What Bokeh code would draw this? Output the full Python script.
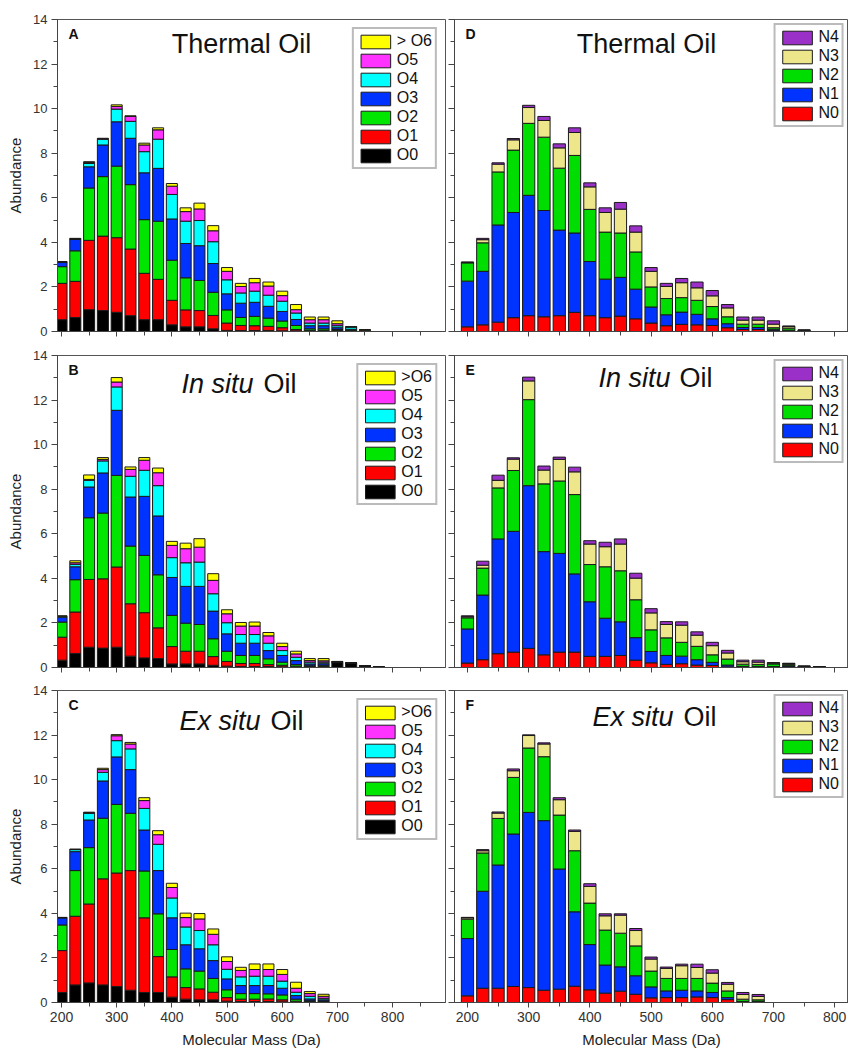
from bokeh.plotting import figure
from bokeh.models import (Range1d, SingleIntervalTicker, Legend, LegendItem,
                          Label, ColumnDataSource)
from bokeh.layouts import column, row
from bokeh.embed import file_html
from bokeh.resources import INLINE

FONT = "Liberation Sans"

# ---------------- data (cumulative stack level = top of each layer) ----------------
mass_thermal = [200, 225, 250, 275, 300, 325, 350, 375, 400, 425, 450, 475,
                500, 525, 550, 575, 600, 625, 650, 675, 700, 725, 750]
mass_insitu = [200, 225, 250, 275, 300, 325, 350, 375, 400, 425, 450, 475,
               500, 525, 550, 575, 600, 625, 650, 675, 700, 725, 750, 775]
mass_exsitu = [200, 225, 250, 275, 300, 325, 350, 375, 400, 425, 450, 475,
               500, 525, 550, 575, 600, 625, 650, 675]

# Panel A - Thermal oil, oxygen classes
A_O0 = [0.53, 0.63, 0.98, 0.94, 0.86, 0.71, 0.53, 0.53, 0.30, 0.21, 0.21, 0.12, 0.05, 0.04, 0.04, 0.04, 0.03, 0.03, 0.02, 0.02, 0.02, 0.05, 0.05]
A_O1 = [2.16, 2.25, 4.09, 4.28, 4.21, 3.70, 2.61, 2.34, 1.40, 0.97, 0.94, 0.72, 0.38, 0.27, 0.26, 0.23, 0.17, 0.09, 0.05, 0.05, 0.04, 0.06, 0.05]
A_O2 = [2.91, 3.62, 6.44, 6.95, 7.42, 6.59, 5.02, 4.95, 3.20, 2.41, 2.29, 1.76, 0.97, 0.63, 0.68, 0.60, 0.47, 0.27, 0.12, 0.12, 0.09, 0.07, 0.05]
A_O3 = [3.12, 4.13, 7.39, 8.37, 9.41, 8.67, 7.12, 7.32, 5.05, 3.95, 3.85, 3.05, 1.69, 1.27, 1.31, 1.13, 0.90, 0.54, 0.26, 0.26, 0.17, 0.10, 0.06]
A_O4 = [3.12, 4.15, 7.54, 8.63, 9.98, 9.43, 8.07, 8.63, 6.15, 4.95, 4.98, 4.03, 2.32, 1.73, 1.81, 1.63, 1.36, 0.83, 0.38, 0.38, 0.26, 0.20, 0.06]
A_O5 = [3.13, 4.16, 7.58, 8.65, 10.10, 9.65, 8.37, 9.05, 6.52, 5.38, 5.50, 4.52, 2.70, 2.02, 2.19, 2.04, 1.61, 0.98, 0.53, 0.53, 0.35, 0.21, 0.06]
A_O6 = [3.14, 4.18, 7.62, 8.67, 10.17, 9.68, 8.45, 9.14, 6.64, 5.55, 5.76, 4.75, 2.87, 2.16, 2.38, 2.22, 1.81, 1.21, 0.65, 0.65, 0.48, 0.22, 0.07]

# Panel B - In situ oil, oxygen classes
B_O0 = [0.33, 0.63, 0.91, 0.87, 0.91, 0.51, 0.43, 0.40, 0.16, 0.16, 0.16, 0.10, 0.06, 0.04, 0.04, 0.04, 0.03, 0.03, 0.02, 0.03, 0.22, 0.19, 0.07, 0.02]
B_O1 = [1.36, 2.49, 3.95, 3.98, 4.51, 2.86, 2.46, 1.78, 0.94, 0.73, 0.73, 0.49, 0.27, 0.18, 0.18, 0.13, 0.10, 0.06, 0.04, 0.05, 0.22, 0.19, 0.07, 0.02]
B_O2 = [2.04, 3.94, 6.72, 6.93, 8.62, 5.45, 5.03, 4.16, 2.34, 1.99, 1.93, 1.29, 0.73, 0.54, 0.54, 0.39, 0.24, 0.13, 0.08, 0.10, 0.25, 0.20, 0.07, 0.03]
B_O3 = [2.26, 4.52, 8.10, 8.73, 11.54, 7.65, 7.68, 6.80, 4.04, 3.64, 3.64, 2.53, 1.51, 1.09, 1.09, 0.76, 0.54, 0.31, 0.16, 0.17, 0.26, 0.20, 0.08, 0.03]
B_O4 = [2.28, 4.63, 8.40, 9.27, 12.59, 8.58, 8.85, 8.16, 4.93, 4.70, 4.73, 3.31, 2.01, 1.48, 1.48, 1.09, 0.76, 0.46, 0.24, 0.24, 0.26, 0.20, 0.08, 0.03]
B_O5 = [2.30, 4.70, 8.44, 9.34, 12.81, 8.89, 9.30, 8.74, 5.48, 5.33, 5.40, 3.91, 2.41, 1.86, 1.86, 1.42, 0.94, 0.61, 0.31, 0.30, 0.27, 0.21, 0.08, 0.03]
B_O6 = [2.32, 4.79, 8.64, 9.42, 13.01, 9.00, 9.42, 8.95, 5.66, 5.58, 5.78, 4.21, 2.59, 2.02, 2.04, 1.57, 1.09, 0.73, 0.40, 0.40, 0.27, 0.21, 0.08, 0.03]

# Panel C - Ex situ oil, oxygen classes
C_O0 = [0.45, 0.79, 0.88, 0.79, 0.72, 0.55, 0.45, 0.45, 0.24, 0.15, 0.12, 0.12, 0.06, 0.04, 0.04, 0.04, 0.03, 0.02, 0.02, 0.02]
C_O1 = [2.33, 3.87, 4.42, 5.55, 5.81, 5.92, 3.80, 2.06, 1.15, 0.67, 0.61, 0.46, 0.22, 0.15, 0.15, 0.16, 0.12, 0.06, 0.05, 0.04]
C_O2 = [3.48, 5.92, 6.95, 8.27, 8.89, 8.49, 5.90, 3.98, 2.38, 1.51, 1.41, 1.08, 0.57, 0.40, 0.40, 0.39, 0.34, 0.15, 0.08, 0.07]
C_O3 = [3.80, 6.77, 8.19, 9.94, 11.02, 10.45, 7.74, 5.92, 3.80, 2.59, 2.41, 1.88, 1.06, 0.76, 0.76, 0.76, 0.64, 0.31, 0.16, 0.12]
C_O4 = [3.81, 6.86, 8.49, 10.33, 11.75, 11.38, 8.71, 7.10, 4.69, 3.39, 3.23, 2.59, 1.49, 1.15, 1.18, 1.18, 0.96, 0.46, 0.28, 0.19]
C_O5 = [3.81, 6.87, 8.52, 10.45, 11.97, 11.60, 9.06, 7.53, 5.16, 3.81, 3.75, 3.06, 1.84, 1.44, 1.48, 1.48, 1.26, 0.64, 0.40, 0.28]
C_O6 = [3.82, 6.88, 8.54, 10.51, 12.02, 11.67, 9.19, 7.71, 5.35, 4.01, 3.99, 3.30, 2.05, 1.58, 1.73, 1.73, 1.48, 0.91, 0.49, 0.37]

# Panel D - Thermal oil, nitrogen classes
D_N0 = [0.21, 0.30, 0.42, 0.62, 0.71, 0.66, 0.71, 0.86, 0.71, 0.62, 0.69, 0.57, 0.38, 0.26, 0.32, 0.30, 0.27, 0.17, 0.09, 0.09, 0.04, 0.03, 0.02]
D_N1 = [2.26, 2.70, 4.78, 5.34, 6.11, 5.43, 4.55, 4.42, 3.14, 2.35, 2.43, 1.90, 1.10, 0.75, 0.87, 0.77, 0.57, 0.35, 0.18, 0.18, 0.10, 0.06, 0.03]
D_N2 = [3.08, 3.98, 7.16, 8.14, 9.34, 8.72, 7.33, 7.90, 5.48, 4.46, 4.42, 3.57, 2.00, 1.48, 1.52, 1.40, 1.12, 0.66, 0.33, 0.33, 0.17, 0.15, 0.05]
D_N3 = [3.10, 4.12, 7.51, 8.60, 10.05, 9.47, 8.24, 8.93, 6.49, 5.34, 5.49, 4.46, 2.70, 2.02, 2.19, 1.96, 1.60, 1.06, 0.51, 0.51, 0.33, 0.22, 0.06]
D_N4 = [3.12, 4.18, 7.57, 8.66, 10.15, 9.65, 8.42, 9.14, 6.67, 5.55, 5.79, 4.74, 2.87, 2.16, 2.38, 2.22, 1.84, 1.21, 0.65, 0.65, 0.48, 0.25, 0.07]

# Panel E - In situ oil, nitrogen classes
E_N0 = [0.20, 0.35, 0.62, 0.69, 0.86, 0.57, 0.69, 0.69, 0.50, 0.50, 0.54, 0.33, 0.21, 0.14, 0.17, 0.11, 0.09, 0.03, 0.02, 0.02, 0.02, 0.05, 0.02, 0.01]
E_N1 = [1.73, 3.25, 5.77, 6.11, 8.16, 5.20, 5.12, 4.20, 2.95, 2.21, 2.05, 1.34, 0.72, 0.54, 0.51, 0.35, 0.23, 0.11, 0.05, 0.05, 0.04, 0.08, 0.03, 0.02]
E_N2 = [2.23, 4.46, 8.06, 8.84, 12.02, 8.24, 8.37, 7.76, 4.62, 4.52, 4.34, 3.04, 1.69, 1.33, 1.13, 0.95, 0.57, 0.38, 0.15, 0.14, 0.16, 0.14, 0.05, 0.02]
E_N3 = [2.28, 4.59, 8.40, 9.35, 12.86, 8.86, 9.34, 8.78, 5.54, 5.42, 5.54, 4.01, 2.45, 1.93, 1.90, 1.45, 0.98, 0.65, 0.26, 0.24, 0.20, 0.18, 0.06, 0.03]
E_N4 = [2.32, 4.77, 8.63, 9.41, 13.03, 9.04, 9.44, 8.99, 5.69, 5.62, 5.77, 4.23, 2.64, 2.06, 2.05, 1.60, 1.13, 0.77, 0.33, 0.33, 0.22, 0.19, 0.06, 0.03]

# Panel F - Ex situ oil, nitrogen classes
F_N0 = [0.30, 0.64, 0.64, 0.72, 0.67, 0.55, 0.60, 0.73, 0.57, 0.42, 0.51, 0.37, 0.21, 0.22, 0.22, 0.25, 0.22, 0.13, 0.02, 0.02]
F_N1 = [2.87, 4.99, 6.17, 7.56, 8.53, 8.16, 5.99, 4.07, 2.60, 1.68, 1.60, 1.20, 0.70, 0.52, 0.55, 0.52, 0.45, 0.22, 0.05, 0.05]
F_N2 = [3.74, 6.71, 8.26, 10.10, 11.42, 11.03, 8.41, 6.81, 4.46, 3.25, 3.11, 2.54, 1.41, 1.08, 1.08, 1.08, 0.87, 0.52, 0.15, 0.12]
F_N3 = [3.80, 6.81, 8.50, 10.40, 11.98, 11.60, 9.10, 7.68, 5.21, 3.89, 3.92, 3.23, 1.95, 1.53, 1.65, 1.57, 1.32, 0.82, 0.36, 0.27]
F_N4 = [3.82, 6.86, 8.55, 10.48, 12.01, 11.65, 9.19, 7.74, 5.33, 3.98, 3.98, 3.32, 2.04, 1.59, 1.72, 1.72, 1.47, 0.90, 0.45, 0.36]

O_labels_A = ["O0", "O1", "O2", "O3", "O4", "O5", "> O6"]
O_labels_BC = ["O0", "O1", "O2", "O3", "O4", "O5", ">O6"]
N_labels = ["N0", "N1", "N2", "N3", "N4"]

O_colors = ["#000000", "#FF0000", "#00E600", "#0033FF", "#00FFFF", "#FF33FF", "#FFFF00"]
N_colors = ["#FF0000", "#0033FF", "#00DD00", "#EEE68A", "#9B30C8"]

# ---------------- layout geometry ----------------
COLS = [dict(width=446, bl=57, br=1, xr=(192.7, 896.0), ylabels=True),
        dict(width=402, bl=8, br=0, xr=(178.8, 822.6), ylabels=False)]
ROWS = [dict(height=343, bt=19, bb=12, xlabels=False),
        dict(height=336, bt=12, bb=12, xlabels=False),
        dict(height=373, bt=11, bb=50, xlabels=True)]


def make_fig(c, r):
    p = figure(width=c["width"], height=r["height"],
               x_range=Range1d(*c["xr"]), y_range=Range1d(0, 14),
               output_backend="svg", toolbar_location=None,
               min_border_left=c["bl"], min_border_right=c["br"],
               min_border_top=r["bt"], min_border_bottom=r["bb"])
    p.grid.visible = False
    p.outline_line_color = "#555555"
    p.outline_line_width = 1
    p.background_fill_color = "white"
    p.border_fill_color = "white"

    p.xaxis.ticker = SingleIntervalTicker(interval=100, num_minor_ticks=2)
    p.yaxis.ticker = SingleIntervalTicker(interval=2, num_minor_ticks=2)
    for ax in (p.xaxis[0], p.yaxis[0]):
        ax.axis_line_color = "#444444"
        ax.major_tick_line_color = "#444444"
        ax.minor_tick_line_color = "#444444"
        ax.major_tick_in = 0
        ax.minor_tick_in = 0
        ax.major_label_text_font = FONT
        ax.major_label_text_color = "#333333"
        ax.axis_label_text_font = FONT
        ax.axis_label_text_font_style = "normal"
        ax.axis_label_text_color = "#222222"
    p.xaxis.major_tick_out = 5
    p.xaxis.minor_tick_out = 4
    p.yaxis.major_tick_out = 6
    p.yaxis.minor_tick_out = 4

    if r["xlabels"]:
        p.xaxis.major_label_text_font_size = "14px"
        p.xaxis.major_label_standoff = 4
        p.xaxis.axis_label = "Molecular Mass (Da)"
        p.xaxis.axis_label_text_font_size = "15px"
        p.xaxis.axis_label_standoff = 6
    else:
        p.xaxis.major_label_text_font_size = "0px"
        p.xaxis.major_label_text_alpha = 0
        p.xaxis.major_label_standoff = 0

    if c["ylabels"]:
        p.yaxis.major_label_text_font_size = "13px"
        p.yaxis.major_label_standoff = 4
        p.yaxis.axis_label = "Abundance"
        p.yaxis.axis_label_text_font_size = "15px"
        p.yaxis.axis_label_standoff = 6
    else:
        p.yaxis.major_label_text_font_size = "0px"
        p.yaxis.major_label_text_alpha = 0
        p.yaxis.major_label_standoff = 0
    return p


def add_stack(p, mass, levels, colors, labels, legend_margin):
    renderers = []
    prev = [0.0] * len(mass)
    for lev, col in zip(levels, colors):
        src = ColumnDataSource(dict(x=mass, bottom=prev, top=lev))
        rr = p.vbar(x="x", width=20, bottom="bottom", top="top", source=src,
                    fill_color=col, line_color="#1a1a1a", line_width=1)
        renderers.append(rr)
        prev = lev
    items = [LegendItem(label=lab, renderers=[rr])
             for lab, rr in reversed(list(zip(labels, renderers)))]
    leg = Legend(items=items, location="top_right", margin=legend_margin,
                 padding=3, spacing=1, glyph_width=37, glyph_height=17,
                 label_height=17, label_standoff=3,
                 label_text_font=FONT, label_text_font_size="16px",
                 label_text_color="#111111",
                 border_line_color="#777777", border_line_width=2,
                 background_fill_color="white", background_fill_alpha=1)
    p.add_layout(leg)


def add_title(p, parts, y, letter):
    for txt, x, align, style in parts:
        p.add_layout(Label(x=x, y=y, x_units="screen", y_units="screen",
                           text=txt, text_align=align, text_baseline="alphabetic",
                           text_font=FONT, text_font_size="27px",
                           text_font_style=style, text_color="#111111"))
    p.add_layout(Label(x=11, y=298, x_units="screen", y_units="screen",
                       text=letter, text_align="left", text_baseline="alphabetic",
                       text_font=FONT, text_font_size="14px",
                       text_font_style="bold", text_color="#111111"))


figs = [[make_fig(c, r) for c in COLS] for r in ROWS]
pA, pD = figs[0]
pB, pE = figs[1]
pC, pF = figs[2]

add_stack(pA, mass_thermal, [A_O0, A_O1, A_O2, A_O3, A_O4, A_O5, A_O6], O_colors, O_labels_A, 8)
add_stack(pB, mass_insitu, [B_O0, B_O1, B_O2, B_O3, B_O4, B_O5, B_O6], O_colors, O_labels_BC, 8)
add_stack(pC, mass_exsitu, [C_O0, C_O1, C_O2, C_O3, C_O4, C_O5, C_O6], O_colors, O_labels_BC, 8)
add_stack(pD, mass_thermal, [D_N0, D_N1, D_N2, D_N3, D_N4], N_colors, N_labels, 4)
add_stack(pE, mass_insitu, [E_N0, E_N1, E_N2, E_N3, E_N4], N_colors, N_labels, 4)
add_stack(pF, mass_exsitu, [F_N0, F_N1, F_N2, F_N3, F_N4], N_colors, N_labels, 4)

add_title(pA, [("Thermal Oil", 184, "center", "normal")], 288, "A")
add_title(pB, [("In situ", 196, "right", "italic"), ("Oil", 206, "left", "normal")], 284, "B")
add_title(pC, [("Ex situ", 203, "right", "italic"), ("Oil", 213, "left", "normal")], 282, "C")
add_title(pD, [("Thermal Oil", 192, "center", "normal")], 288, "D")
add_title(pE, [("In situ", 216, "right", "italic"), ("Oil", 225, "left", "normal")], 290, "E")
add_title(pF, [("Ex situ", 219, "right", "italic"), ("Oil", 229, "left", "normal")], 286, "F")

layout = column(row(pA, pD), row(pB, pE), row(pC, pF))

open("out.html", "w").write(file_html(layout, INLINE))
